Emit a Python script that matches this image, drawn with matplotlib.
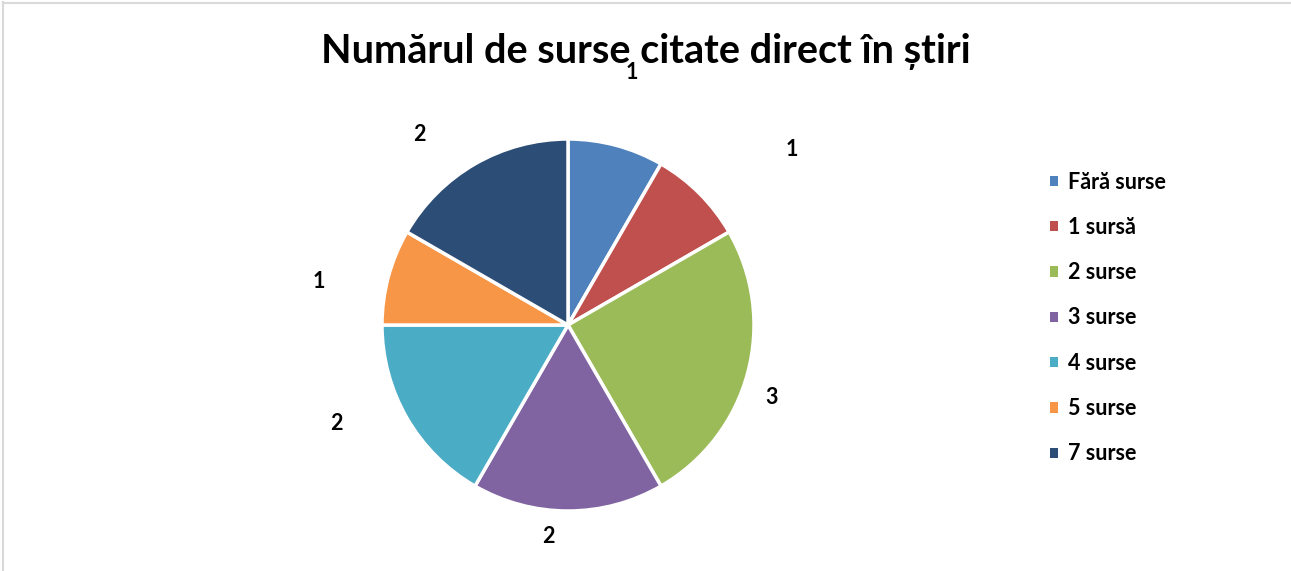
import matplotlib.pyplot as plt
from matplotlib.patches import Patch
from matplotlib.lines import Line2D
import numpy as np

plt.rcParams['font.family'] = ['Lato', 'DejaVu Sans']

# date
categorii = ["Fără surse", "1 sursă", "2 surse", "3 surse", "4 surse", "5 surse", "7 surse"]
valori = [1, 1, 3, 2, 2, 1, 2]
culori = ["#4F81BD", "#C0504D", "#9BBB59", "#8064A2", "#4BACC6", "#F79646", "#2C4D75"]
# pozitia etichetelor: distanta (in raze) si abatere de unghi (grade, sens orar)
dist_etichete = [1.40, 1.53, 1.16, 1.14, 1.35, 1.36, 1.30]
unghi_etichete = [-0.7, 7, 4.5, 5.4, 7, -5, -8]

W, H = 1291, 571
fig = plt.figure(figsize=(W / 100, H / 100), dpi=100)
ax = fig.add_axes([0, 0, 1, 1])

cx, cy, r = 568, H - 325, 186
wedges, _ = ax.pie(valori, colors=culori, startangle=90, counterclock=False,
                   center=(cx, cy), radius=r, frame=True,
                   wedgeprops=dict(edgecolor="white", linewidth=2.5))
ax.set_xlim(0, W)
ax.set_ylim(0, H)
ax.axis("off")

# etichete valori
for w, v, d, da in zip(wedges, valori, dist_etichete, unghi_etichete):
    ang = np.deg2rad((w.theta1 + w.theta2) / 2 - da)
    ax.text(cx + d * r * np.cos(ang), cy + d * r * np.sin(ang), str(v),
            ha="center", va="center", fontsize=15.5, fontweight="bold")

# titlu
fig.text(0.5, 1 - 52 / H, "Numărul de surse citate direct în știri",
         ha="center", va="center", fontsize=28.5, fontweight="bold")

# legenda
handles = [Patch(facecolor=c, edgecolor="none") for c in culori]
leg = fig.legend(handles, categorii, loc="center left",
                 bbox_to_anchor=(1031 / W, 1 - 318 / H), frameon=False,
                 prop=dict(size=15.5, weight="bold"), labelspacing=1.13,
                 handlelength=0.37, handleheight=0.37, handletextpad=0.45)

# chenar
fig.add_artist(Line2D([3.5 / W, 3.5 / W], [0, 1 - 2 / H], color="#D9D9D9", lw=1.5))
fig.add_artist(Line2D([3.5 / W, 1], [1 - 2.5 / H, 1 - 2.5 / H], color="#D9D9D9", lw=1.5))

fig.savefig("out.png", dpi=100)
